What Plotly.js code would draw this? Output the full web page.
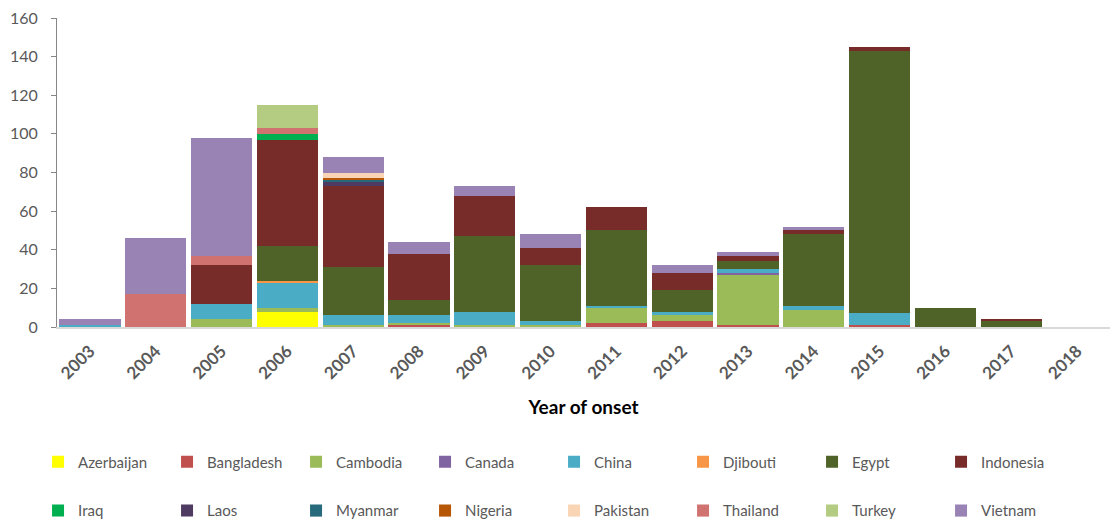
<!DOCTYPE html>
<html>
<head>
<meta charset="utf-8">
<script src="https://cdn.plot.ly/plotly-3.0.1.min.js"></script>
<style>html,body{margin:0;padding:0;background:#fff;}#chart{width:1110px;height:520px;}</style>
</head>
<body>
<div id="chart"></div>
<script>
const years = ["2003","2004","2005","2006","2007","2008","2009","2010","2011","2012","2013","2014","2015","2016","2017","2018"];
const countries = ["Azerbaijan","Bangladesh","Cambodia","Canada","China","Djibouti","Egypt","Indonesia","Iraq","Laos","Myanmar","Nigeria","Pakistan","Thailand","Turkey","Vietnam"];
const colors = ["#FFFF00","#C0504D","#9BBB59","#8064A2","#4BACC6","#F79646","#4F6228","#772C2A","#00B050","#4F3B62","#276A7C","#B65708","#FAD5B5","#D07270","#B3CC82","#9983B5"];

const azerbaijan = [0,0,0,8,0,0,0,0,0,0,0,0,0,0,0,0];
const bangladesh = [0,0,0,0,0,1,0,0,2,3,1,0,1,0,0,0];
const cambodia   = [0,0,4,2,1,1,1,1,8,3,26,9,0,0,0,0];
const canada     = [0,0,0,0,0,0,0,0,0,0,1,0,0,0,0,0];
const china      = [1,0,8,13,5,4,7,2,1,2,2,2,6,0,0,0];
const djibouti   = [0,0,0,1,0,0,0,0,0,0,0,0,0,0,0,0];
const egypt      = [0,0,0,18,25,8,39,29,39,11,4,37,136,10,3,0];
const indonesia  = [0,0,20,55,42,24,21,9,12,9,3,2,2,0,1,0];
const iraq       = [0,0,0,3,0,0,0,0,0,0,0,0,0,0,0,0];
const laos       = [0,0,0,0,2,0,0,0,0,0,0,0,0,0,0,0];
const myanmar    = [0,0,0,0,1,0,0,0,0,0,0,0,0,0,0,0];
const nigeria    = [0,0,0,0,1,0,0,0,0,0,0,0,0,0,0,0];
const pakistan   = [0,0,0,0,3,0,0,0,0,0,0,0,0,0,0,0];
const thailand   = [0,17,5,3,0,0,0,0,0,0,0,0,0,0,0,0];
const turkey     = [0,0,0,12,0,0,0,0,0,0,0,0,0,0,0,0];
const vietnam    = [3,29,61,0,8,6,5,7,0,4,2,2,0,0,0,0];

const series = [azerbaijan,bangladesh,cambodia,canada,china,djibouti,egypt,indonesia,iraq,laos,myanmar,nigeria,pakistan,thailand,turkey,vietnam];

const traces = countries.map((c, i) => ({
  type: 'bar',
  name: c,
  x: years,
  y: series[i],
  marker: {color: colors[i], line: {width: 0}},
  legend: i < 8 ? 'legend' : 'legend2',
  hoverinfo: 'x+y+name'
}));

const fontFam = 'Lato, "Open Sans", sans-serif';
const legendCommon = {
  orientation: 'h',
  xanchor: 'left',
  yanchor: 'middle',
  x: -0.018,
  entrywidth: 84,
  entrywidthmode: 'pixels',
  font: {family: fontFam, size: 15, color: '#595959'},
  bgcolor: 'rgba(0,0,0,0)',
  traceorder: 'normal'
};

const layout = {
  width: 1110,
  height: 520,
  margin: {l: 57, r: 0, t: 18, b: 193, autoexpand: false},
  paper_bgcolor: '#ffffff',
  plot_bgcolor: '#ffffff',
  barmode: 'stack',
  bargap: 0.07,
  font: {family: fontFam},
  showlegend: true,
  legend: Object.assign({}, legendCommon, {y: -0.437}),
  legend2: Object.assign({}, legendCommon, {y: -0.595}),
  xaxis: {
    type: 'category',
    tickangle: -45,
    tickfont: {family: fontFam, size: 17, color: '#595959', weight: 'bold'},
    ticklabelstandoff: 6,
    showline: true,
    linecolor: '#D9D9D9',
    linewidth: 1.5,
    ticks: '',
    showgrid: false,
    zeroline: false,
    title: {text: 'Year of onset', font: {family: fontFam, size: 19, color: '#000000', weight: 'bold'}, standoff: 18}
  },
  yaxis: {
    range: [0, 160],
    dtick: 20,
    tick0: 0,
    tickfont: {family: fontFam, size: 16, color: '#595959'},
    ticklabelstandoff: 10,
    showline: true,
    linecolor: '#868686',
    linewidth: 1,
    ticks: 'outside',
    ticklen: 5,
    tickcolor: '#868686',
    showgrid: false,
    zeroline: false
  }
};

Plotly.newPlot('chart', traces, layout, {displayModeBar: false, staticPlot: true});
</script>
</body>
</html>
